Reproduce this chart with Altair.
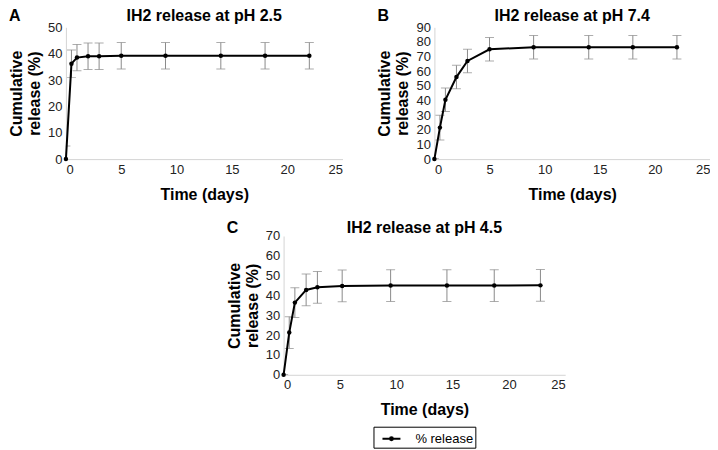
import altair as alt
import pandas as pd

FONT = "Liberation Sans"
GRAY = "#8a8a8a"

# Panel A: pH 2.5
time_a = [0, 0.5, 1, 2, 3, 5, 9, 14, 18, 22]
rel_a = [0, 36.2, 38.5, 39.0, 39.0, 39.2, 39.2, 39.2, 39.2, 39.2]
err_a = [5, 5.2, 5, 5, 5, 5, 5, 5, 5, 5]

# Panel B: pH 7.4
time_b = [0, 0.5, 1, 2, 3, 5, 9, 14, 18, 22]
rel_b = [0, 21.5, 40.5, 56.0, 67.0, 75.0, 76.4, 76.4, 76.4, 76.4]
err_b = [0, 8.5, 8, 8, 8, 8, 8, 8, 8, 8]

# Panel C: pH 4.5
time_c = [0, 0.5, 1, 2, 3, 5.2, 9.5, 14.5, 18.7, 22.8]
rel_c = [0, 21.3, 36.4, 42.8, 44.1, 44.8, 45.0, 45.0, 45.0, 45.1]
err_c = [0, 8, 7.5, 8, 8, 8, 8, 8, 8, 8]

x_ticks = [0, 5, 10, 15, 20, 25]
series_name = "% release"

LEGEND_PATH = "M-1,0L1,0M0,-0.16A0.16,0.16,0,1,1,0,0.16A0.16,0.16,0,1,1,0,-0.16Z"


def panel(letter, title, t, v, e, ymax, w, h, title_dy, legend=False):
    df = pd.DataFrame({
        "time": t,
        "release": v,
        "lo": [a - b for a, b in zip(v, e)],
        "hi": [a + b for a, b in zip(v, e)],
        "series": [series_name] * len(t),
    })
    xscale = alt.Scale(domain=[0, 25], nice=False)
    xaxis = alt.Axis(values=x_ticks, title="Time (days)")
    yscale = alt.Scale(domain=[0, ymax], nice=False)
    yaxis = alt.Axis(values=list(range(0, ymax + 1, 10)),
                     title=["Cumulative", "release (%)"])
    X = alt.X("time:Q", scale=xscale, axis=xaxis)

    def Y(f):
        return alt.Y(f + ":Q", scale=yscale, axis=yaxis)

    base = alt.Chart(df)
    rule = base.mark_rule(color=GRAY, strokeWidth=1, clip=True).encode(
        x=X, y=Y("lo"), y2="hi:Q")
    cap_lo = base.mark_tick(orient="horizontal", size=9, thickness=1,
                            color=GRAY, clip=True).encode(x=X, y=Y("lo"))
    cap_hi = base.mark_tick(orient="horizontal", size=9, thickness=1,
                            color=GRAY, clip=True).encode(x=X, y=Y("hi"))
    if legend:
        col = alt.Color("series:N", scale=alt.Scale(range=["black"]),
                        legend=alt.Legend(
                            orient="none", legendX=90, legendY=191,
                            title=None, strokeColor="black", padding=2,
                            symbolOffset=6, labelOffset=14,
                            labelFont=FONT, labelFontSize=13,
                            labelColor="black", symbolType=LEGEND_PATH,
                            symbolSize=324, symbolStrokeWidth=2,
                            symbolFillColor="black",
                            symbolStrokeColor="black"))
    else:
        col = alt.value("black")
    line = base.mark_line(strokeWidth=2).encode(x=X, y=Y("release"), color=col)
    pts = base.mark_circle(size=20, opacity=1).encode(
        x=X, y=Y("release"), color=col)
    head = pd.DataFrame({"letter": [letter], "title": [title]})
    lab = alt.Chart(head).mark_text(
        font=FONT, fontSize=16, fontWeight="bold", align="left",
        baseline="top", color="black").encode(
        x=alt.value(-57), y=alt.value(-19 + title_dy), text="letter:N")
    ttl = alt.Chart(head).mark_text(
        font=FONT, fontSize=16, fontWeight="bold", align="center",
        baseline="alphabetic", color="black").encode(
        x=alt.value(w / 2), y=alt.value(-6 + title_dy), text="title:N")
    return alt.layer(rule, cap_lo, cap_hi, line, pts, lab, ttl).properties(
        width=w, height=h)


A = panel("A", "IH2 release at pH 2.5", time_a, rel_a, err_a, 50, 277, 132, 0)
B = panel("B", "IH2 release at pH 7.4", time_b, rel_b, err_b, 90, 276, 132, 0)
C = panel("C", "IH2 release at pH 4.5", time_c, rel_c, err_c, 70, 282, 139, 3,
          legend=True)

spacer = alt.Chart(pd.DataFrame({"a": [0]})).mark_point(opacity=0).properties(
    width=160, height=10)

top = alt.hconcat(A, B, spacing=34)
bottom = alt.hconcat(spacer, C, spacing=0).resolve_scale(color="independent")

chart = alt.vconcat(top, bottom, spacing=18, center=False).resolve_scale(
    color="independent").properties(padding=0).configure_view(
    stroke=None).configure_axis(
    domainColor="#d4d4d4", ticks=False, grid=False,
    labelFont=FONT, labelFontSize=13, labelColor="#222222",
    titleFont=FONT, titleFontSize=16, titleFontWeight="bold",
    titleColor="black", labelPadding=4).configure_axisY(
    titlePadding=5, titleLineHeight=18).configure_axisX(titlePadding=10)

chart.save("out.html", embed_options={"renderer": "svg", "actions": False})
